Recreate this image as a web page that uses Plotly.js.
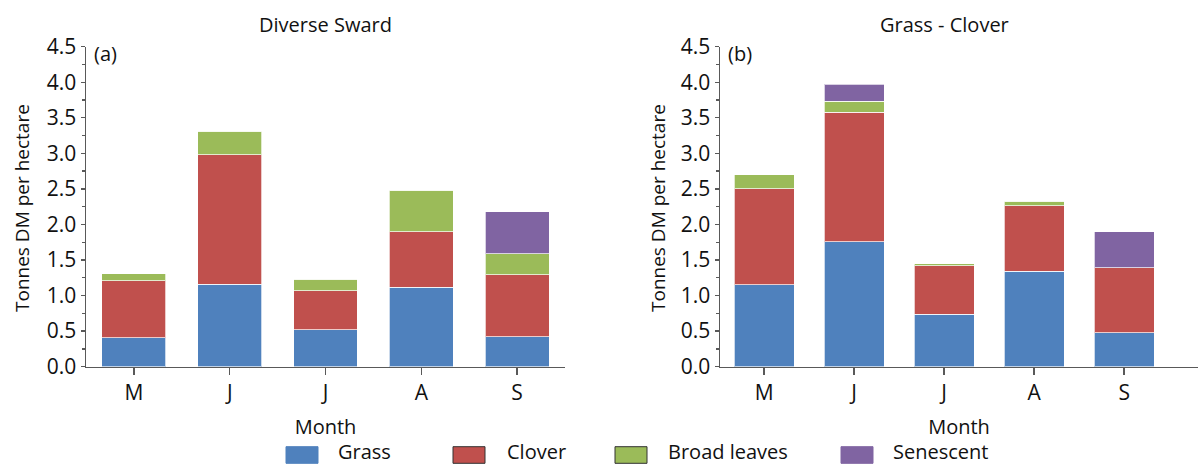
<!DOCTYPE html>
<html>
<head>
<meta charset="utf-8">
<script src="https://cdn.plot.ly/plotly-3.0.1.min.js"></script>
<style>
  html, body { margin: 0; padding: 0; background: #ffffff; }
  #chart { width: 1198px; height: 467px; }
</style>
</head>
<body>
<div id="chart"></div>
<script>
// Month labels along the x axis (May to September)
const months = ['M', 'J', 'J', 'A', 'S'];
const monthIndex = [0, 1, 2, 3, 4];

// Component names and fill colours
const components = ['Grass', 'Clover', 'Broad leaves', 'Senescent'];
const componentColors = ['#4F81BD', '#C0504D', '#9BBB59', '#8064A2'];

// (a) Diverse Sward: tonnes DM per hectare by component
const diverseGrass     = [0.41, 1.16, 0.52, 1.12, 0.42];
const diverseClover    = [0.80, 1.82, 0.55, 0.78, 0.87];
const diverseBroad     = [0.10, 0.33, 0.16, 0.58, 0.30];
const diverseSenescent = [0.00, 0.00, 0.00, 0.00, 0.59];

// (b) Grass - Clover: tonnes DM per hectare by component
const gcGrass     = [1.15, 1.76, 0.74, 1.34, 0.48];
const gcClover    = [1.35, 1.82, 0.68, 0.92, 0.91];
const gcBroad     = [0.20, 0.15, 0.03, 0.07, 0.00];
const gcSenescent = [0.00, 0.24, 0.00, 0.00, 0.51];

const panelTitles = ['Diverse Sward', 'Grass - Clover'];
const panelTags = ['(a)', '(b)'];
const xTitle = 'Month';
const yTitle = 'Tonnes DM per hectare';

const FONT = 'Open Sans, Noto Sans, sans-serif';
const INK = '#111111';
const AXIS = '#595959';
const W = 1198, H = 467;
const px = v => v / W;           // horizontal pixel -> paper
const py = v => 1 - v / H;       // vertical pixel (from top) -> paper

function stack(series, xa, ya) {
  return series.map((vals, i) => ({
    type: 'bar',
    x: monthIndex,
    y: vals,
    name: components[i],
    xaxis: xa,
    yaxis: ya,
    width: 0.667,
    showlegend: false,
    marker: { color: componentColors[i], line: { color: 'rgba(255,255,255,0.7)', width: 1 } },
    hoverinfo: 'x+y+name'
  }));
}

const traces = [
  ...stack([diverseGrass, diverseClover, diverseBroad, diverseSenescent], 'x', 'y'),
  ...stack([gcGrass, gcClover, gcBroad, gcSenescent], 'x2', 'y2')
];

function yAxis(anchor) {
  return {
    anchor: anchor,
    domain: [py(366.7), py(46.7)],
    range: [0, 4.5],
    tickmode: 'linear', tick0: 0, dtick: 0.5,
    tickformat: '.1f',
    ticks: 'outside', ticklen: 4, tickwidth: 1.3, tickcolor: AXIS,
    minor: { dtick: 0.25, ticks: 'outside', ticklen: 3, tickwidth: 1.3, tickcolor: AXIS, showgrid: false },
    showline: true, linecolor: AXIS, linewidth: 1.5,
    showgrid: false, zeroline: false,
    tickfont: { family: FONT, size: 21, color: INK },
    ticklabelstandoff: 0
  };
}

function xAxis(domain, range, anchor) {
  return {
    anchor: anchor,
    domain: domain,
    range: range,
    tickmode: 'array', tickvals: monthIndex, ticktext: months,
    ticks: 'outside', ticklen: 7, tickwidth: 1.5, tickcolor: AXIS,
    showline: true, linecolor: AXIS, linewidth: 1.5,
    showgrid: false, zeroline: false,
    tickfont: { family: FONT, size: 21, color: INK },
    title: { text: xTitle, font: { family: FONT, size: 20, color: INK }, standoff: 14 }
  };
}

const annotations = [];
[[panelTitles[0], 325], [panelTitles[1], 944]].forEach(([text, x]) => annotations.push({
  text: text, x: px(x), y: py(25),
  xref: 'paper', yref: 'paper', showarrow: false,
  xanchor: 'center', yanchor: 'middle',
  font: { family: FONT, size: 20, color: INK }
}));
[[panelTags[0], 92], [panelTags[1], 726]].forEach(([text, x]) => annotations.push({
  text: text, x: px(x), y: py(54),
  xref: 'paper', yref: 'paper', showarrow: false,
  xanchor: 'left', yanchor: 'middle',
  font: { family: FONT, size: 20, color: INK }
}));
// Vertical axis titles, one per panel
[22, 658].forEach(x => annotations.push({
  text: yTitle, x: px(x), y: py(208), textangle: -90,
  xref: 'paper', yref: 'paper', showarrow: false,
  xanchor: 'center', yanchor: 'middle',
  font: { family: FONT, size: 19, color: INK }
}));

// Legend row along the bottom
const legendBoxLeft = [286, 453, 615, 841];
const legendTextLeft = [336, 505, 666, 891];
const legendBorder = [componentColors[0], '#333333', '#333333', componentColors[3]];
const shapes = components.map((name, i) => ({
  type: 'rect', xref: 'paper', yref: 'paper',
  x0: px(legendBoxLeft[i]), x1: px(legendBoxLeft[i] + 32),
  y0: py(463.3), y1: py(446.7),
  fillcolor: componentColors[i],
  line: { color: legendBorder[i], width: 1 }
}));
components.forEach((name, i) => annotations.push({
  text: name, xref: 'paper', yref: 'paper', showarrow: false,
  x: px(legendTextLeft[i]), y: py(467),
  xanchor: 'left', yanchor: 'bottom',
  font: { family: FONT, size: 20, color: INK }
}));

const layout = {
  width: W, height: H,
  margin: { l: 0, r: 0, t: 0, b: 0 },
  paper_bgcolor: '#ffffff', plot_bgcolor: '#ffffff',
  barmode: 'stack',
  showlegend: false,
  xaxis: xAxis([px(86), px(565)], [-0.5, 4.5], 'y'),
  yaxis: yAxis('x'),
  xaxis2: xAxis([px(720), 1], [-0.49, 4.82], 'y2'),
  yaxis2: yAxis('x2'),
  annotations: annotations,
  shapes: shapes
};

Plotly.newPlot('chart', traces, layout, { staticPlot: true, displayModeBar: false });
</script>
</body>
</html>
